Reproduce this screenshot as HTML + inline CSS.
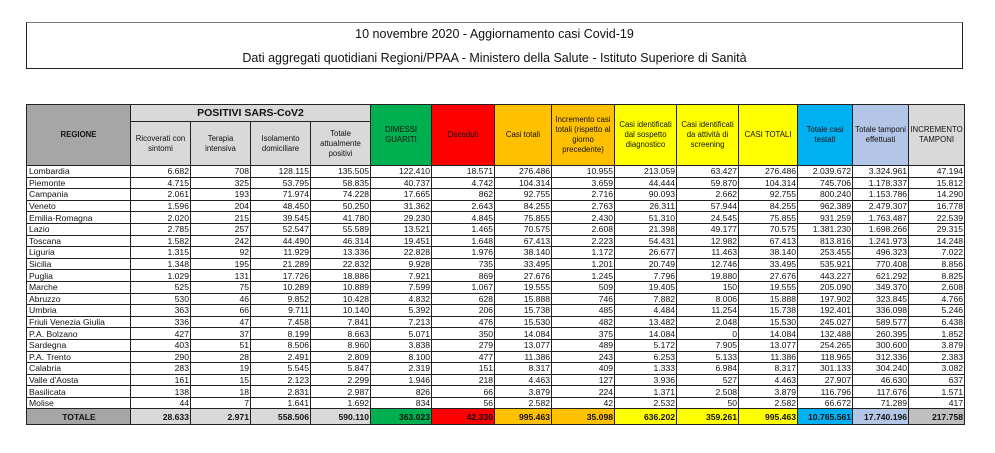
<!DOCTYPE html><html><head><meta charset="utf-8"><style>
body{margin:0;width:995px;height:453px;background:#fff;font-family:"Liberation Sans",sans-serif;position:relative;overflow:hidden}
#t{position:absolute;left:26px;top:22px;width:937px;height:47px;border:1px solid #222;border-top-color:#777;box-sizing:border-box;text-align:center;font-size:12.5px;color:#111}
#t div{position:absolute;left:0;right:0}
table{position:absolute;left:26px;top:104px;width:938px;border-collapse:collapse;table-layout:fixed;font-size:8.6px;color:#111}
td,th{border:1px solid #222;padding:0 2px;overflow:hidden;white-space:nowrap}
th{font-weight:normal;font-size:7.8px;line-height:10px;white-space:normal;text-align:center;background:#d9d9d9;padding:0 1px}
tbody td{height:10.6px;line-height:10px;text-align:right;padding:0 1px 0 2px}
tbody td:first-child{text-align:left}
.tot td{height:15px;background:#bfbfbf;font-weight:bold;font-size:8.6px}
.g{background:#00b050!important}.r{background:#ff0000!important}.o{background:#ffc000!important}.y{background:#ffff00!important}.b{background:#00b0f0!important}.lb{background:#b4c6e7!important}.gr{background:#d9d9d9!important}
</style></head><body>
<div id="t"><div style="top:4px">10 novembre 2020 - Aggiornamento casi Covid-19</div><div style="top:28px">Dati aggregati quotidiani Regioni/PPAA - Ministero della Salute - Istituto Superiore di Sanità</div></div>
<table>
<colgroup><col style="width:104px"><col style="width:60px"><col style="width:60px"><col style="width:60px"><col style="width:60px"><col style="width:61px"><col style="width:63px"><col style="width:57px"><col style="width:63px"><col style="width:62px"><col style="width:62px"><col style="width:59px"><col style="width:55px"><col style="width:56px"><col style="width:56px"></colgroup>
<thead>
<tr style="height:17px"><th rowspan="2" style="background:#a6a6a6;font-weight:bold">REGIONE</th><th colspan="4" style="font-weight:bold;font-size:10.5px">POSITIVI SARS-CoV2</th><th rowspan="2" class="g">DIMESSI GUARITI</th><th rowspan="2" class="r">Deceduti</th><th rowspan="2" class="o">Casi totali</th><th rowspan="2" class="o">Incremento casi totali (rispetto al giorno precedente)</th><th rowspan="2" class="y">Casi identificati dal sospetto diagnostico</th><th rowspan="2" class="y">Casi identificati da attività di screening</th><th rowspan="2" class="y">CASI TOTALI</th><th rowspan="2" class="b">Totale casi testati</th><th rowspan="2" class="lb">Totale tamponi effettuati</th><th rowspan="2" class="gr">INCREMENTO TAMPONI</th></tr>
<tr style="height:44px"><th>Ricoverati con sintomi</th><th>Terapia intensiva</th><th>Isolamento domiciliare</th><th>Totale attualmente positivi</th></tr>
</thead>
<tbody>
<tr><td>Lombardia</td><td>6.682</td><td>708</td><td>128.115</td><td>135.505</td><td>122.410</td><td>18.571</td><td>276.486</td><td>10.955</td><td>213.059</td><td>63.427</td><td>276.486</td><td>2.039.672</td><td>3.324.961</td><td>47.194</td></tr>
<tr><td>Piemonte</td><td>4.715</td><td>325</td><td>53.795</td><td>58.835</td><td>40.737</td><td>4.742</td><td>104.314</td><td>3.659</td><td>44.444</td><td>59.870</td><td>104.314</td><td>745.706</td><td>1.178.337</td><td>15.812</td></tr>
<tr><td>Campania</td><td>2.061</td><td>193</td><td>71.974</td><td>74.228</td><td>17.665</td><td>862</td><td>92.755</td><td>2.716</td><td>90.093</td><td>2.662</td><td>92.755</td><td>800.240</td><td>1.153.786</td><td>14.290</td></tr>
<tr><td>Veneto</td><td>1.596</td><td>204</td><td>48.450</td><td>50.250</td><td>31.362</td><td>2.643</td><td>84.255</td><td>2.763</td><td>26.311</td><td>57.944</td><td>84.255</td><td>962.389</td><td>2.479.307</td><td>16.778</td></tr>
<tr><td>Emilia-Romagna</td><td>2.020</td><td>215</td><td>39.545</td><td>41.780</td><td>29.230</td><td>4.845</td><td>75.855</td><td>2.430</td><td>51.310</td><td>24.545</td><td>75.855</td><td>931.259</td><td>1.763.487</td><td>22.539</td></tr>
<tr><td>Lazio</td><td>2.785</td><td>257</td><td>52.547</td><td>55.589</td><td>13.521</td><td>1.465</td><td>70.575</td><td>2.608</td><td>21.398</td><td>49.177</td><td>70.575</td><td>1.381.230</td><td>1.698.266</td><td>29.315</td></tr>
<tr><td>Toscana</td><td>1.582</td><td>242</td><td>44.490</td><td>46.314</td><td>19.451</td><td>1.648</td><td>67.413</td><td>2.223</td><td>54.431</td><td>12.982</td><td>67.413</td><td>813.816</td><td>1.241.973</td><td>14.248</td></tr>
<tr><td>Liguria</td><td>1.315</td><td>92</td><td>11.929</td><td>13.336</td><td>22.828</td><td>1.976</td><td>38.140</td><td>1.172</td><td>26.677</td><td>11.463</td><td>38.140</td><td>253.455</td><td>496.323</td><td>7.022</td></tr>
<tr><td>Sicilia</td><td>1.348</td><td>195</td><td>21.289</td><td>22.832</td><td>9.928</td><td>735</td><td>33.495</td><td>1.201</td><td>20.749</td><td>12.746</td><td>33.495</td><td>535.921</td><td>770.408</td><td>8.856</td></tr>
<tr><td>Puglia</td><td>1.029</td><td>131</td><td>17.726</td><td>18.886</td><td>7.921</td><td>869</td><td>27.676</td><td>1.245</td><td>7.796</td><td>19.880</td><td>27.676</td><td>443.227</td><td>621.292</td><td>8.825</td></tr>
<tr><td>Marche</td><td>525</td><td>75</td><td>10.289</td><td>10.889</td><td>7.599</td><td>1.067</td><td>19.555</td><td>509</td><td>19.405</td><td>150</td><td>19.555</td><td>205.090</td><td>349.370</td><td>2.608</td></tr>
<tr><td>Abruzzo</td><td>530</td><td>46</td><td>9.852</td><td>10.428</td><td>4.832</td><td>628</td><td>15.888</td><td>746</td><td>7.882</td><td>8.006</td><td>15.888</td><td>197.902</td><td>323.845</td><td>4.766</td></tr>
<tr><td>Umbria</td><td>363</td><td>66</td><td>9.711</td><td>10.140</td><td>5.392</td><td>206</td><td>15.738</td><td>485</td><td>4.484</td><td>11.254</td><td>15.738</td><td>192.401</td><td>336.098</td><td>5.246</td></tr>
<tr><td>Friuli Venezia Giulia</td><td>336</td><td>47</td><td>7.458</td><td>7.841</td><td>7.213</td><td>476</td><td>15.530</td><td>482</td><td>13.482</td><td>2.048</td><td>15.530</td><td>245.027</td><td>589.577</td><td>6.438</td></tr>
<tr><td>P.A. Bolzano</td><td>427</td><td>37</td><td>8.199</td><td>8.663</td><td>5.071</td><td>350</td><td>14.084</td><td>375</td><td>14.084</td><td>0</td><td>14.084</td><td>132.488</td><td>260.395</td><td>1.852</td></tr>
<tr><td>Sardegna</td><td>403</td><td>51</td><td>8.506</td><td>8.960</td><td>3.838</td><td>279</td><td>13.077</td><td>489</td><td>5.172</td><td>7.905</td><td>13.077</td><td>254.265</td><td>300.600</td><td>3.879</td></tr>
<tr><td>P.A. Trento</td><td>290</td><td>28</td><td>2.491</td><td>2.809</td><td>8.100</td><td>477</td><td>11.386</td><td>243</td><td>6.253</td><td>5.133</td><td>11.386</td><td>118.965</td><td>312.336</td><td>2.383</td></tr>
<tr><td>Calabria</td><td>283</td><td>19</td><td>5.545</td><td>5.847</td><td>2.319</td><td>151</td><td>8.317</td><td>409</td><td>1.333</td><td>6.984</td><td>8.317</td><td>301.133</td><td>304.240</td><td>3.082</td></tr>
<tr><td>Valle d'Aosta</td><td>161</td><td>15</td><td>2.123</td><td>2.299</td><td>1.946</td><td>218</td><td>4.463</td><td>127</td><td>3.936</td><td>527</td><td>4.463</td><td>27.907</td><td>46.630</td><td>637</td></tr>
<tr><td>Basilicata</td><td>138</td><td>18</td><td>2.831</td><td>2.987</td><td>826</td><td>66</td><td>3.879</td><td>224</td><td>1.371</td><td>2.508</td><td>3.879</td><td>116.796</td><td>117.676</td><td>1.571</td></tr>
<tr><td>Molise</td><td>44</td><td>7</td><td>1.641</td><td>1.692</td><td>834</td><td>56</td><td>2.582</td><td>42</td><td>2.532</td><td>50</td><td>2.582</td><td>66.672</td><td>71.289</td><td>417</td></tr>
<tr class="tot"><td style="text-align:center;background:#a6a6a6">TOTALE</td><td style="background:#d9d9d9">28.633</td><td style="background:#d9d9d9">2.971</td><td style="background:#d9d9d9">558.506</td><td style="background:#d9d9d9">590.110</td><td class="g">363.023</td><td class="r">42.330</td><td class="o">995.463</td><td class="o">35.098</td><td class="y">636.202</td><td class="y">359.261</td><td class="y">995.463</td><td class="b">10.765.561</td><td class="lb">17.740.196</td><td class="gr" style="background:#bfbfbf!important">217.758</td></tr>
</tbody></table>
</body></html>
